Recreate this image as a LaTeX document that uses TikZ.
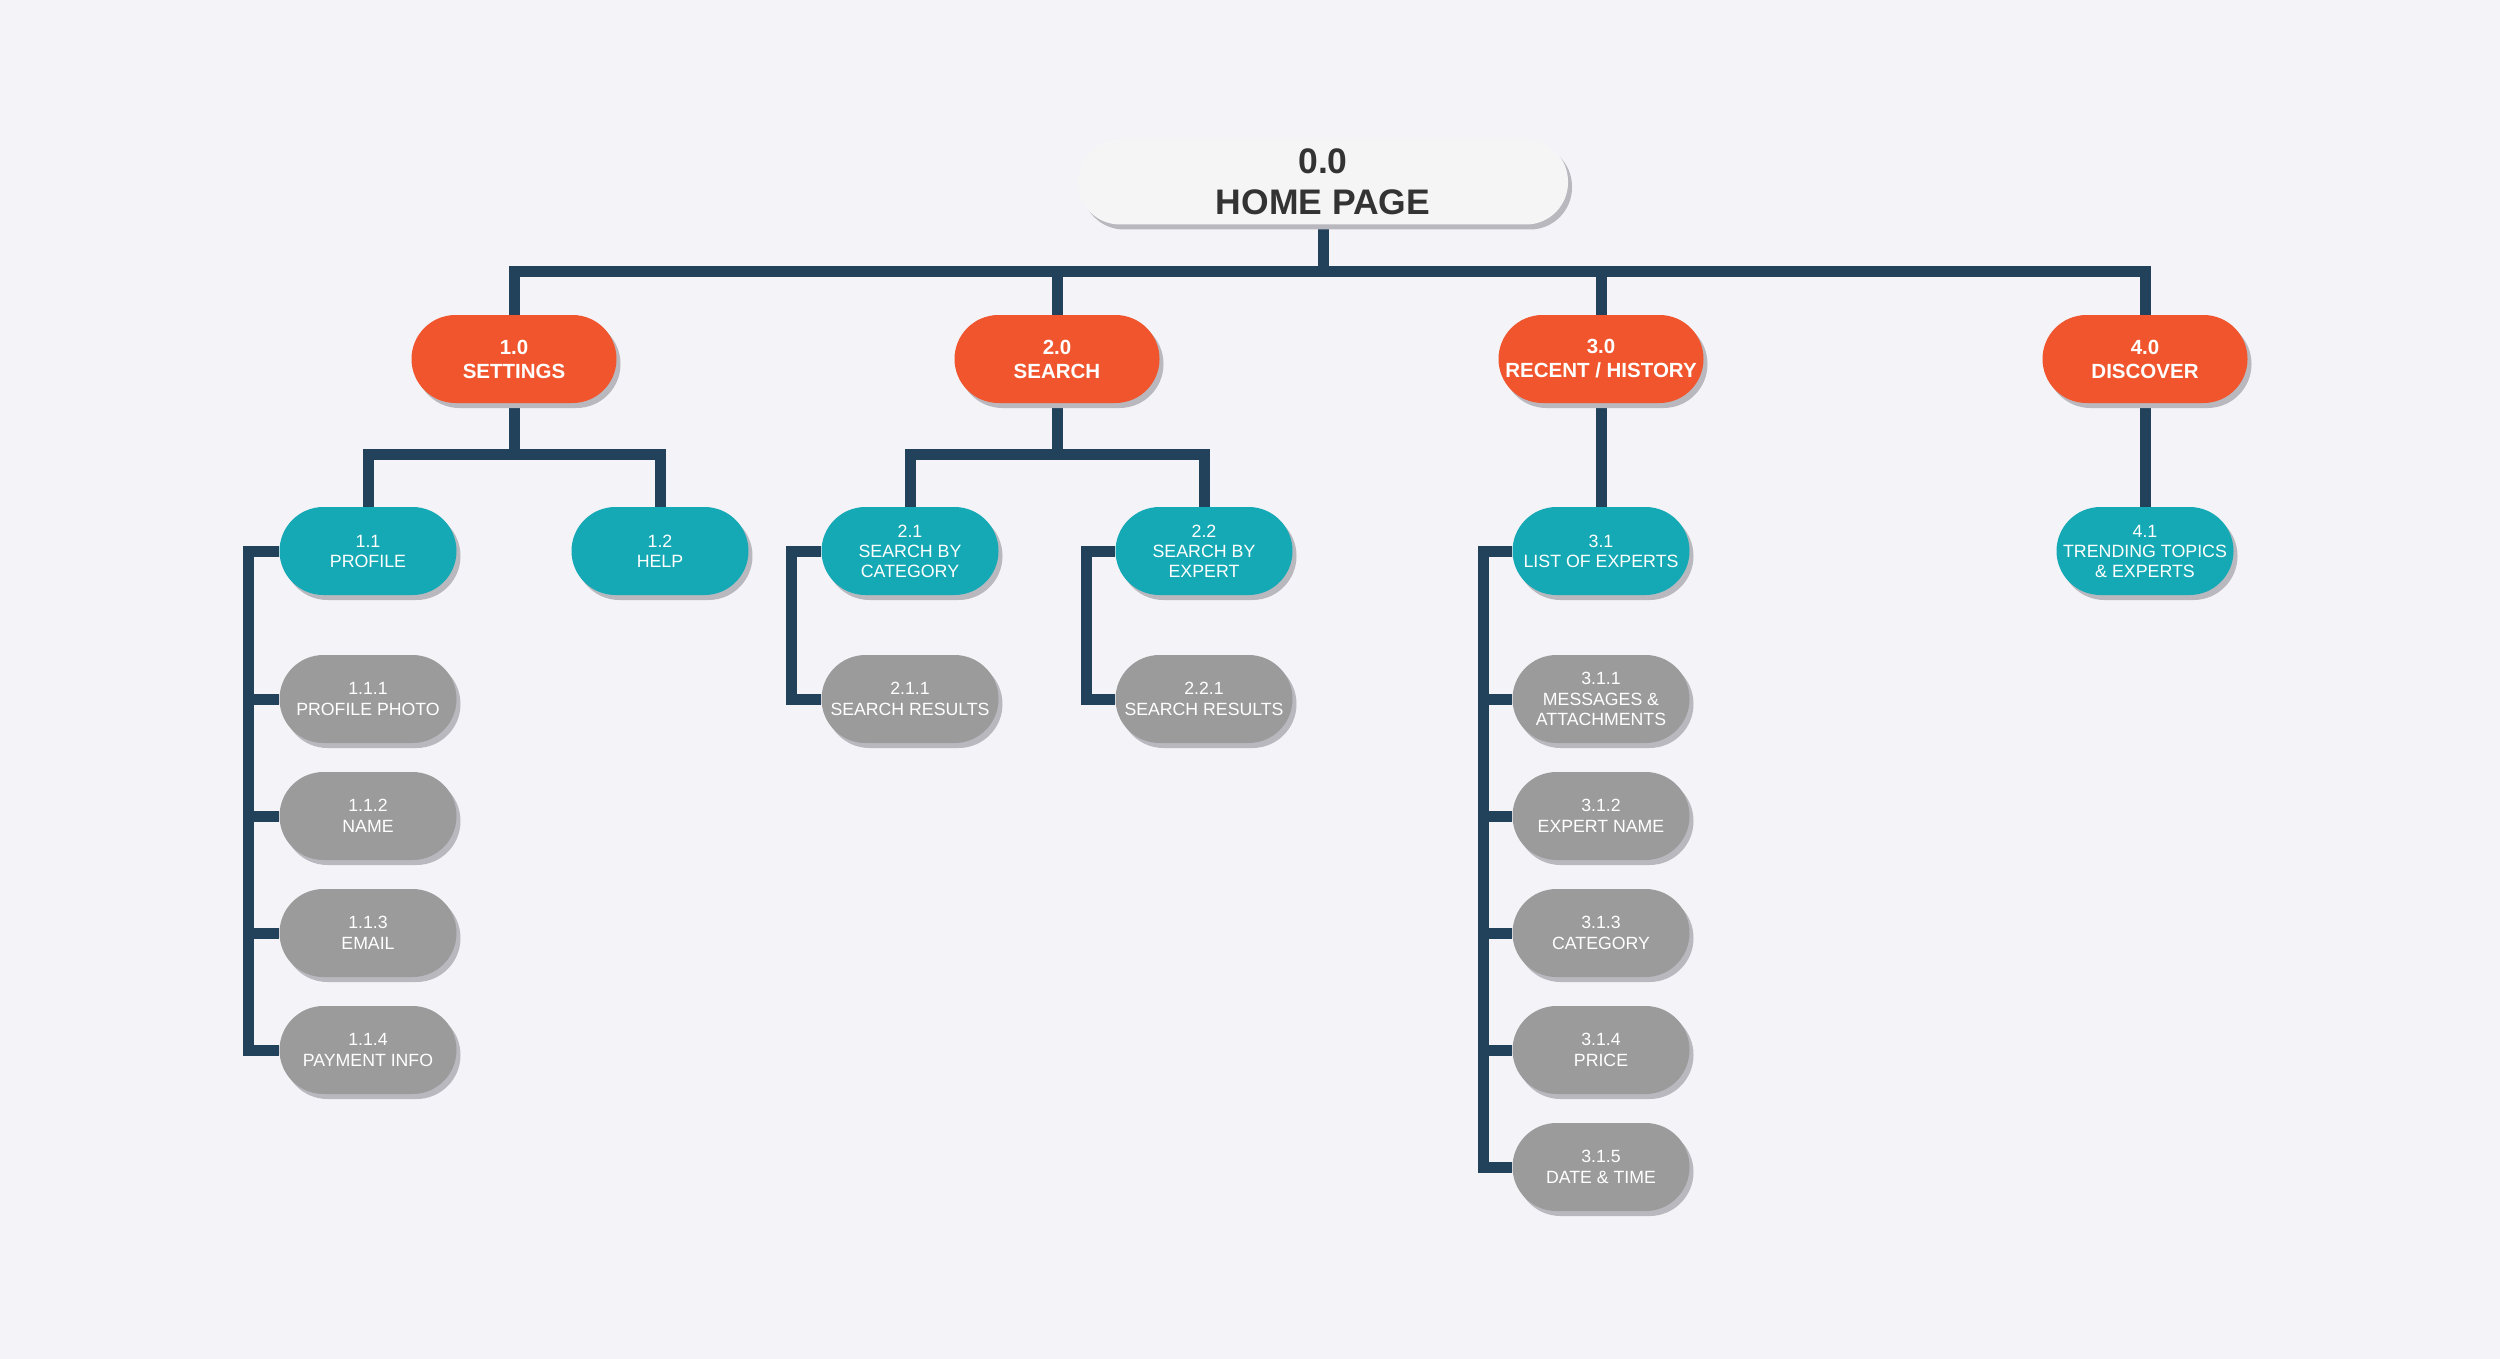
\documentclass[tikz,border=0pt]{standalone}
\usepackage{fontspec}
\setmainfont{Liberation Sans}
\usetikzlibrary{shadows}
\pgfdeclarelayer{bg}
\pgfdeclarelayer{canvas}
\pgfsetlayers{canvas,bg,main}
\definecolor{bgc}{RGB}{243,243,248}
\definecolor{orangec}{RGB}{241,85,45}
\definecolor{tealc}{RGB}{20,169,180}
\definecolor{grayc}{RGB}{155,155,155}
\definecolor{linec}{RGB}{34,66,92}
\definecolor{shadowc}{RGB}{184,184,190}
\definecolor{homec}{RGB}{245,245,246}
\definecolor{homet}{RGB}{51,51,51}
\tikzset{
 box/.style={rectangle, rounded corners=44pt, minimum height=88pt, inner sep=0pt, align=center, text=white,
   drop shadow={shadow xshift=4pt, shadow yshift=-5pt, fill=shadowc, opacity=1}},
 lvlone/.style={box, fill=orangec, minimum width=205pt, font=\bfseries\fontsize{20.5}{24}\selectfont},
 lvltwo/.style={box, fill=tealc, minimum width=177pt, font=\fontsize{17.8}{20}\selectfont},
 lvlthree/.style={box, fill=grayc, minimum width=177pt, font=\fontsize{17.7}{20.5}\selectfont},
 homebox/.style={box, fill=homec, text=homet, minimum width=490pt, minimum height=85pt, rounded corners=42pt,
   font=\bfseries\fontsize{35.5}{41}\selectfont},
 conn/.style={draw=linec, line width=11pt, line join=miter},
}
\begin{document}
\begin{tikzpicture}[x=1pt,y=-1pt]
\begin{pgfonlayer}{canvas}
\fill[bgc] (0,0) rectangle (2500,1359);
\end{pgfonlayer}
\useasboundingbox (0,0) rectangle (2500,1359);

\node[homebox] (home) at (1323,182) {0.0\\HOME PAGE};

\node[lvlone] (n1) at (514,359) {1.0\\SETTINGS};
\node[lvlone] (n2) at (1057,359) {2.0\\SEARCH};
\node[lvlone] (n3) at (1601,359) {3.0\\RECENT / HISTORY};
\node[lvlone] (n4) at (2145,359) {4.0\\DISCOVER};

\node[lvltwo] (n11) at (368,551) {1.1\\PROFILE};
\node[lvltwo] (n12) at (660,551) {1.2\\HELP};
\node[lvltwo] (n21) at (910,551) {2.1\\SEARCH BY\\CATEGORY};
\node[lvltwo] (n22) at (1204,551) {2.2\\SEARCH BY\\EXPERT};
\node[lvltwo] (n31) at (1601,551) {3.1\\LIST OF EXPERTS};
\node[lvltwo] (n41) at (2145,551) {4.1\\TRENDING TOPICS\\\& EXPERTS};

\node[lvlthree] (n111) at (368,699) {1.1.1\\PROFILE PHOTO};
\node[lvlthree] (n112) at (368,816) {1.1.2\\NAME};
\node[lvlthree] (n113) at (368,933) {1.1.3\\EMAIL};
\node[lvlthree] (n114) at (368,1050) {1.1.4\\PAYMENT INFO};

\node[lvlthree] (n211) at (910,699) {2.1.1\\SEARCH RESULTS};
\node[lvlthree] (n221) at (1204,699) {2.2.1\\SEARCH RESULTS};

\node[lvlthree] (n311) at (1601,699) {3.1.1\\MESSAGES \&\\ATTACHMENTS};
\node[lvlthree] (n312) at (1601,816) {3.1.2\\EXPERT NAME};
\node[lvlthree] (n313) at (1601,933) {3.1.3\\CATEGORY};
\node[lvlthree] (n314) at (1601,1050) {3.1.4\\PRICE};
\node[lvlthree] (n315) at (1601,1167) {3.1.5\\DATE \& TIME};

\begin{pgfonlayer}{bg}
\foreach \c in {n1,n2,n3,n4}
  \draw[conn] (home.south) -- ++(0,46.5) -| (\c.north);
\foreach \c in {n11,n12}
  \draw[conn] (n1.south) -- ++(0,51) -| (\c.north);
\foreach \c in {n21,n22}
  \draw[conn] (n2.south) -- ++(0,51) -| (\c.north);
\draw[conn] (n3.south) -- (n31.north);
\draw[conn] (n4.south) -- (n41.north);
\foreach \c in {n111,n112,n113,n114}
  \draw[conn] (n11.west) -- ++(-31,0) |- (\c.west);
\draw[conn] (n21.west) -- ++(-30,0) |- (n211.west);
\draw[conn] (n22.west) -- ++(-29,0) |- (n221.west);
\foreach \c in {n311,n312,n313,n314,n315}
  \draw[conn] (n31.west) -- ++(-29,0) |- (\c.west);
\end{pgfonlayer}
\end{tikzpicture}
\end{document}
